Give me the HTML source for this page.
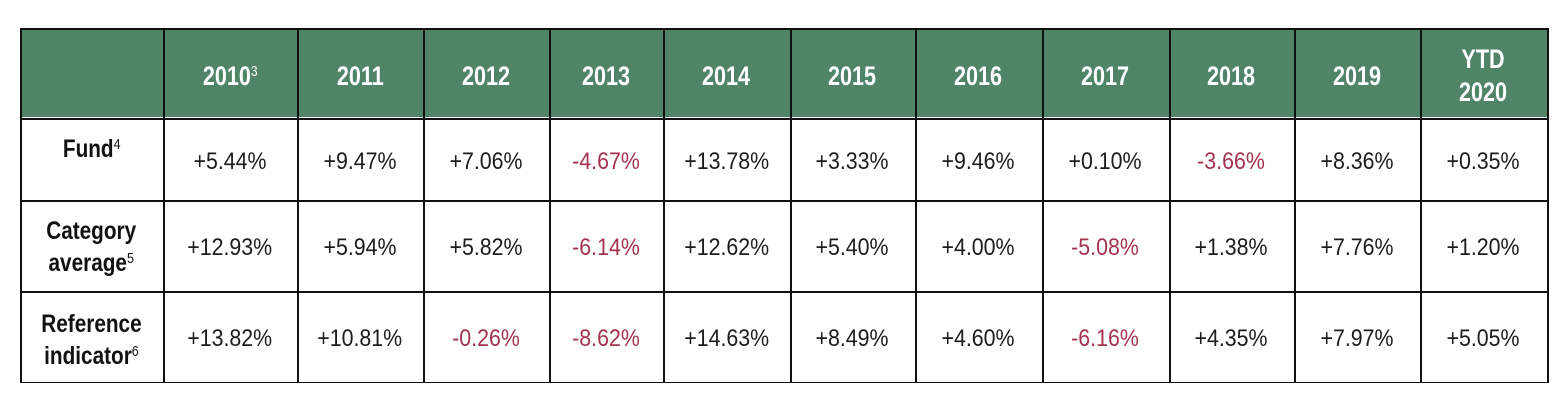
<!DOCTYPE html>
<html>
<head>
<meta charset="utf-8">
<style>
  html,body{margin:0;padding:0;background:#fff;}
  body{width:1559px;height:401px;position:relative;overflow:hidden;font-family:"Liberation Sans",Arial,sans-serif;}
  .hdr{position:absolute;left:20px;top:28px;width:1528px;height:90px;background:#4f8466;}
  .h{position:absolute;height:1.5px;background:#111;}
  .v{position:absolute;width:1.5px;background:#111;}
  .t{position:absolute;text-align:center;white-space:nowrap;}
  .t span{display:inline-block;}
  .hd{color:#fff;font-size:27px;font-weight:bold;line-height:27px;}
  .hd span{transform:scaleX(0.8);}
  .val{font-size:24px;line-height:24px;color:#1c1c1c;}
  .val span{transform:scaleX(0.89);}
  .neg{color:#a3324f;}
  .lab{font-size:25px;font-weight:bold;line-height:32px;color:#111;}
  .lab span{transform:scaleX(0.83);}
  .t span.sup{font-size:15px;position:relative;top:-9px;font-weight:normal;transform:none;display:inline;}
  .lab span.sup{top:-8px;}
</style>
</head>
<body>
<div class="hdr"></div>
<div style="position:absolute;left:20px;top:117px;width:1528px;height:1px;background:#fff;"></div>

<!-- horizontal lines -->
<div class="h" style="left:20px;top:28px;width:1529px;"></div>
<div class="h" style="left:20px;top:118px;width:1529px;"></div>
<div class="h" style="left:20px;top:200px;width:1529px;"></div>
<div class="h" style="left:20px;top:291px;width:1529px;"></div>
<div class="h" style="left:20px;top:381.5px;width:1529px;"></div>

<!-- vertical lines -->
<div class="v" style="left:20px;top:28px;height:355px;"></div>
<div class="v" style="left:163px;top:28px;height:355px;"></div>
<div class="v" style="left:297px;top:28px;height:355px;"></div>
<div class="v" style="left:423px;top:28px;height:355px;"></div>
<div class="v" style="left:549px;top:28px;height:355px;"></div>
<div class="v" style="left:663px;top:28px;height:355px;"></div>
<div class="v" style="left:790px;top:28px;height:355px;"></div>
<div class="v" style="left:915px;top:28px;height:355px;"></div>
<div class="v" style="left:1042px;top:28px;height:355px;"></div>
<div class="v" style="left:1169px;top:28px;height:355px;"></div>
<div class="v" style="left:1294px;top:28px;height:355px;"></div>
<div class="v" style="left:1420px;top:28px;height:355px;"></div>
<div class="v" style="left:1547px;top:28px;height:355px;"></div>

<!-- header -->
<div class="t hd" style="left:163px;width:134px;top:62.5px;"><span>2010<span class="sup">3</span></span></div>
<div class="t hd" style="left:297px;width:126px;top:62.5px;"><span>2011</span></div>
<div class="t hd" style="left:423px;width:126px;top:62.5px;"><span>2012</span></div>
<div class="t hd" style="left:549px;width:114px;top:62.5px;"><span>2013</span></div>
<div class="t hd" style="left:663px;width:127px;top:62.5px;"><span>2014</span></div>
<div class="t hd" style="left:790px;width:125px;top:62.5px;"><span>2015</span></div>
<div class="t hd" style="left:915px;width:127px;top:62.5px;"><span>2016</span></div>
<div class="t hd" style="left:1042px;width:127px;top:62.5px;"><span>2017</span></div>
<div class="t hd" style="left:1169px;width:125px;top:62.5px;"><span>2018</span></div>
<div class="t hd" style="left:1294px;width:126px;top:62.5px;"><span>2019</span></div>
<div class="t hd" style="left:1420px;width:127px;top:42.5px;line-height:33px;"><span>YTD<br>2020</span></div>

<!-- labels -->
<div class="t lab" style="left:20px;width:143px;top:132.5px;"><span>Fund<span class="sup">4</span></span></div>
<div class="t lab" style="left:20px;width:143px;top:215px;"><span>Category<br>average<span class="sup">5</span></span></div>
<div class="t lab" style="left:20px;width:143px;top:308px;"><span>Reference<br>indicator<span class="sup">6</span></span></div>

<!-- row 1 -->
<div class="t val" style="left:163px;width:134px;top:149.5px;"><span>+5.44%</span></div>
<div class="t val" style="left:297px;width:126px;top:149.5px;"><span>+9.47%</span></div>
<div class="t val" style="left:423px;width:126px;top:149.5px;"><span>+7.06%</span></div>
<div class="t val neg" style="left:549px;width:114px;top:149.5px;"><span>-4.67%</span></div>
<div class="t val" style="left:663px;width:127px;top:149.5px;"><span>+13.78%</span></div>
<div class="t val" style="left:790px;width:125px;top:149.5px;"><span>+3.33%</span></div>
<div class="t val" style="left:915px;width:127px;top:149.5px;"><span>+9.46%</span></div>
<div class="t val" style="left:1042px;width:127px;top:149.5px;"><span>+0.10%</span></div>
<div class="t val neg" style="left:1169px;width:125px;top:149.5px;"><span>-3.66%</span></div>
<div class="t val" style="left:1294px;width:126px;top:149.5px;"><span>+8.36%</span></div>
<div class="t val" style="left:1420px;width:127px;top:149.5px;"><span>+0.35%</span></div>

<!-- row 2 -->
<div class="t val" style="left:163px;width:134px;top:235.5px;"><span>+12.93%</span></div>
<div class="t val" style="left:297px;width:126px;top:235.5px;"><span>+5.94%</span></div>
<div class="t val" style="left:423px;width:126px;top:235.5px;"><span>+5.82%</span></div>
<div class="t val neg" style="left:549px;width:114px;top:235.5px;"><span>-6.14%</span></div>
<div class="t val" style="left:663px;width:127px;top:235.5px;"><span>+12.62%</span></div>
<div class="t val" style="left:790px;width:125px;top:235.5px;"><span>+5.40%</span></div>
<div class="t val" style="left:915px;width:127px;top:235.5px;"><span>+4.00%</span></div>
<div class="t val neg" style="left:1042px;width:127px;top:235.5px;"><span>-5.08%</span></div>
<div class="t val" style="left:1169px;width:125px;top:235.5px;"><span>+1.38%</span></div>
<div class="t val" style="left:1294px;width:126px;top:235.5px;"><span>+7.76%</span></div>
<div class="t val" style="left:1420px;width:127px;top:235.5px;"><span>+1.20%</span></div>

<!-- row 3 -->
<div class="t val" style="left:163px;width:134px;top:326.5px;"><span>+13.82%</span></div>
<div class="t val" style="left:297px;width:126px;top:326.5px;"><span>+10.81%</span></div>
<div class="t val neg" style="left:423px;width:126px;top:326.5px;"><span>-0.26%</span></div>
<div class="t val neg" style="left:549px;width:114px;top:326.5px;"><span>-8.62%</span></div>
<div class="t val" style="left:663px;width:127px;top:326.5px;"><span>+14.63%</span></div>
<div class="t val" style="left:790px;width:125px;top:326.5px;"><span>+8.49%</span></div>
<div class="t val" style="left:915px;width:127px;top:326.5px;"><span>+4.60%</span></div>
<div class="t val neg" style="left:1042px;width:127px;top:326.5px;"><span>-6.16%</span></div>
<div class="t val" style="left:1169px;width:125px;top:326.5px;"><span>+4.35%</span></div>
<div class="t val" style="left:1294px;width:126px;top:326.5px;"><span>+7.97%</span></div>
<div class="t val" style="left:1420px;width:127px;top:326.5px;"><span>+5.05%</span></div>
</body>
</html>
